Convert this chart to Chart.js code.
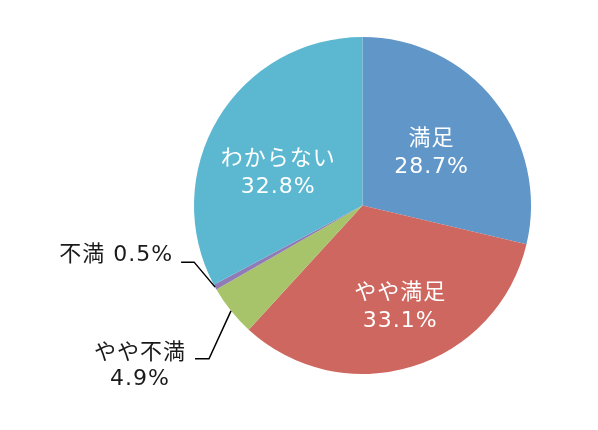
<!DOCTYPE html>
<html>
<head>
<meta charset="utf-8">
<script src="https://cdn.jsdelivr.net/npm/chart.js@4"></script>
<style>
  body { margin: 0; background: #fff; }
  canvas { display: block; }
</style>
</head>
<body>
<canvas id="grafica" width="598" height="430"></canvas>
<script>
// Datos
const categorias = ['満足', 'やや満足', 'やや不満', '不満', 'わからない'];
const porcentajes = [28.7, 33.1, 4.9, 0.5, 32.8];
const colores = ['#6096c8', '#cd6760', '#a8c46b', '#8f7cb6', '#5cb8d1'];

// posicion de cada etiqueta (desplazamiento respecto al centroide o linea guia)
const etiquetas = [
  { dentro: true, dx: 3, dy: 0 },
  { dentro: true, dx: 13, dy: 21 },
  { dentro: false, codoX: -22, codoY: 48, largo: 14, lineas: ['やや不満', '4.9%'] },
  { dentro: false, codoX: -21, codoY: -25, largo: 13, lineas: ['不満 0.5%'] },
  { dentro: true, dx: -12, dy: 11 }
];

const fuente = '22px "DejaVu Sans", "Noto Sans CJK JP", sans-serif';

const pluginEtiquetas = {
  id: 'etiquetas',
  afterDatasetsDraw(chart) {
    const ctx = chart.ctx;
    const arcos = chart.getDatasetMeta(0).data;
    ctx.save();
    ctx.font = fuente;
    ctx.letterSpacing = '1px';
    ctx.textBaseline = 'middle';
    arcos.forEach((arco, i) => {
      const e = etiquetas[i];
      const medio = (arco.startAngle + arco.endAngle) / 2;
      if (e.dentro) {
        const r = arco.outerRadius / 2;
        const x = arco.x + r * Math.cos(medio) + e.dx;
        const y = arco.y + r * Math.sin(medio) + e.dy;
        ctx.fillStyle = '#ffffff';
        ctx.textAlign = 'center';
        ctx.fillText(categorias[i], x, y - 14);
        ctx.fillText(porcentajes[i].toFixed(1) + '%', x, y + 14);
      } else {
        const ax = arco.x + arco.outerRadius * Math.cos(medio);
        const ay = arco.y + arco.outerRadius * Math.sin(medio);
        const cx = ax + e.codoX;
        const cy = ay + e.codoY;
        const fx = cx - e.largo;
        ctx.strokeStyle = '#000000';
        ctx.lineWidth = 1.5;
        ctx.beginPath();
        ctx.moveTo(ax, ay);
        ctx.lineTo(cx, cy);
        ctx.lineTo(fx, cy);
        ctx.stroke();
        ctx.fillStyle = '#1a1a1a';
        if (e.lineas.length === 1) {
          ctx.textAlign = 'right';
          ctx.fillText(e.lineas[0], fx - 8, cy - 7);
        } else {
          const anchoMax = Math.max(...e.lineas.map(t => ctx.measureText(t).width));
          const centro = fx - 9 - anchoMax / 2;
          ctx.textAlign = 'center';
          ctx.fillText(e.lineas[0], centro, cy - 6);
          ctx.fillText(e.lineas[1], centro, cy + 20);
        }
      }
    });
    ctx.restore();
  }
};

const ctx = document.getElementById('grafica');
new Chart(ctx, {
  type: 'pie',
  data: {
    labels: categorias,
    datasets: [{
      data: porcentajes,
      backgroundColor: colores,
      borderWidth: 0
    }]
  },
  options: {
    responsive: false,
    animation: false,
    layout: {
      padding: { left: 194, right: 67, top: 37, bottom: 56 }
    },
    plugins: {
      legend: { display: false },
      tooltip: { enabled: false }
    }
  },
  plugins: [pluginEtiquetas]
});
</script>
</body>
</html>
